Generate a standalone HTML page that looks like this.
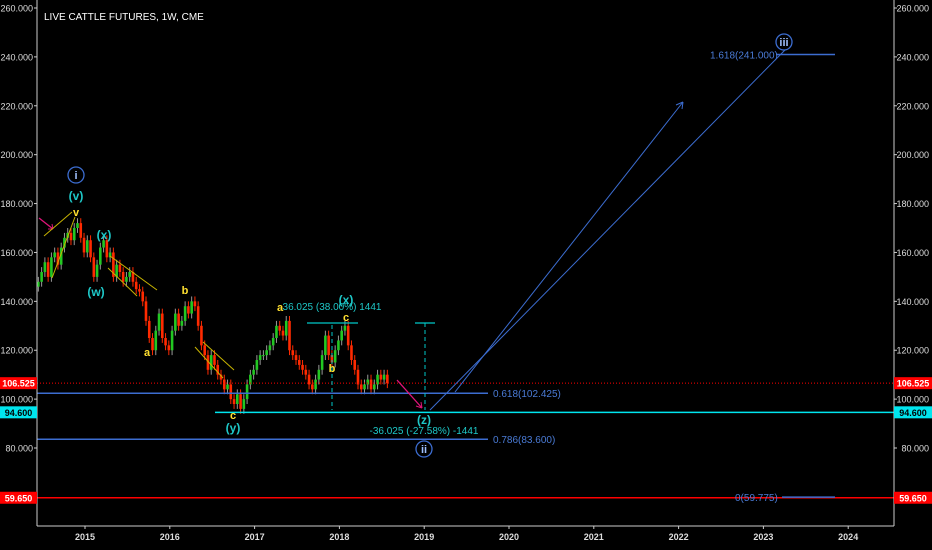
<!DOCTYPE html>
<html><head><meta charset="utf-8"><style>
html,body{margin:0;padding:0;background:#000;width:932px;height:550px;overflow:hidden}
svg{display:block;font-family:"Liberation Sans",sans-serif}
</style></head><body>
<svg id="chart" width="932" height="550" viewBox="0 0 932 550" xmlns="http://www.w3.org/2000/svg">
<g id="grid"></g>
<g id="candles"></g>
<g id="ann"></g>
<g id="axes"></g>
</svg>
<script>
const yTicks=[260,240,220,200,180,160,140,120,100,80];
const xYears=[2015,2016,2017,2018,2019,2020,2021,2022,2023,2024];
const startYear=2014.45, step=1/26;
const closes=[148,152,156,150,158,160,155,162,166,168,165,170,172,166,
160,165,158,150,155,162,165,158,160,150,155,152,148,
150,152,148,145,144,140,132,125,120,128,135,125,122,
120,128,135,130,132,138,135,140,138,130,122,118,112,
118,114,110,108,104,106,100,98,102,96,100,106,
110,112,116,118,118,120,122,125,130,128,126,132,120,
118,116,114,112,110,106,104,108,112,118,126,118,115,
120,124,128,130,122,116,112,106,104,106,108,104,106,
110,108,110,106.5];
const levels=[106.525,94.6,59.65];
const NS="http://www.w3.org/2000/svg";
function Y(p){return 8+(260-p)*2.4445;}
function X(t){return 85+(t-2015)*84.8;}
function el(tag,attrs,parent,txt){const e=document.createElementNS(NS,tag);for(const k in attrs)e.setAttribute(k,attrs[k]);if(txt!==undefined)e.textContent=txt;document.getElementById(parent).appendChild(e);return e;}
const ax='axes';
let b=el('line',{x1:37,y1:0,x2:37,y2:526,stroke:'#ccc','stroke-width':1},ax);

b=el('line',{x1:894,y1:0,x2:894,y2:526,stroke:'#ccc','stroke-width':1},ax);

b=el('line',{x1:37,y1:526,x2:894,y2:526,stroke:'#ccc','stroke-width':1},ax);

yTicks.forEach(v=>{
 const y=Y(v);
 let t=el('text',{x:929,y:y+3.5,fill:'#ddd','font-size':9,'text-anchor':'end'},ax,v.toFixed(3));
 
 el('line',{x1:894,y1:y,x2:897,y2:y,stroke:'#ccc'},ax);
 t=el('text',{x:33,y:y+3.5,fill:'#ddd','font-size':9,'text-anchor':'end'},ax,v.toFixed(3));
 
 el('line',{x1:34,y1:y,x2:37,y2:y,stroke:'#ccc'},ax);
});
xYears.forEach(yr=>{
 const x=X(yr);
 el('line',{x1:x,y1:526,x2:x,y2:529,stroke:'#ccc'},ax);
 const t=el('text',{x:x,y:540,fill:'#ddd','font-size':9,'font-weight':'bold','text-anchor':'middle'},ax,String(yr));
 
});
const lvlColors=['#ff0000','#00e5ee','#ff0000'];
const lvlText=['#fff','#000','#fff'];
levels.forEach((v,i)=>{
 const y=Y(v);
 [[894,38],[0,37]].forEach(([x,w])=>{
  const r=el('rect',{x:x,y:y-6,width:w,height:12,fill:lvlColors[i]},ax);
  
  el('text',{x:x+w/2,y:y+3.5,fill:lvlText[i],'font-size':9,'font-weight':'bold','text-anchor':'middle'},ax,v.toFixed(3));
 });
});
let tt=el('text',{x:44,y:20,fill:'#fff','font-size':10},ax,'LIVE CATTLE FUTURES, 1W, CME');

let prev=closes[0]-2;
closes.forEach((c,i)=>{
 const t=startYear+i*step,x=X(t);
 const o=prev,hi=Math.max(o,c)+2,lo=Math.min(o,c)-2;
 const up=c>=o,col=up?'#22c822':'#ff2a00';
 el('line',{x1:x,y1:Y(hi),x2:x,y2:Y(lo),stroke:up?'#999':'#ff2a00','stroke-width':1},'candles');
 const r=el('rect',{x:x-1.3,y:Y(Math.max(o,c)),width:2.6,height:Math.max(1,Math.abs(Y(o)-Y(c))),fill:col},'candles');
 
 prev=c;
});
const A='ann';
function L(n,a,p){const e=el('line',a,A);return e;}
function T(n,x,y,s,col,fs){const e=el('text',{x:x,y:y,fill:col,'font-size':fs||11,'font-weight':'bold','text-anchor':'middle'},A,s);return e;}
L('last-price-line',{x1:37,y1:Y(106.525),x2:894,y2:Y(106.525),stroke:'#ff0000','stroke-dasharray':'1,2'});
L('fib-0618-line',{x1:37,y1:Y(102.425),x2:488,y2:Y(102.425),stroke:'#3c6dd1','stroke-width':1.5});
L('fib-0786-line',{x1:37,y1:Y(83.6),x2:488,y2:Y(83.6),stroke:'#3c6dd1','stroke-width':1.5});
L('target-line',{x1:215,y1:Y(94.6),x2:894,y2:Y(94.6),stroke:'#00e5ee','stroke-width':1.5});
L('zero-line',{x1:37,y1:Y(59.65),x2:894,y2:Y(59.65),stroke:'#ff0000','stroke-width':1.5});
L('fib-0-line',{x1:782,y1:Y(59.9),x2:835,y2:Y(59.9),stroke:'#3c6dd1','stroke-width':1.5});
L('fib-1618-line',{x1:776,y1:Y(241),x2:835,y2:Y(241),stroke:'#3c6dd1','stroke-width':1.5});
function lab(n,x,y,s){const e=el('text',{x:x,y:y,fill:'#4a7bd6','font-size':10},A,s);}
lab('fib-0618-label',493,Y(102.425)+4,'0.618(102.425)');
lab('fib-0786-label',493,Y(83.6)+4,'0.786(83.600)');
lab('fib-0-label',735,Y(59.9)+4,'0(59.775)');
lab('fib-1618-label',710,Y(241)+4,'1.618(241.000)');
L('projection-line-1',{x1:455,y1:392,x2:683,y2:102,stroke:'#3c6dd1'});
L('projection-line-2',{x1:430,y1:410,x2:785,y2:50,stroke:'#3c6dd1'});
el('path',{d:'M683,102 l-7,3 M683,102 l-1,7',stroke:'#3c6dd1',fill:'none'},A);
L('down-arrow',{x1:397,y1:380,x2:422,y2:408,stroke:'#e0147a','stroke-width':1.3});
el('path',{d:'M422,408 l-6,-2 M422,408 l-1,-6',stroke:'#e0147a',fill:'none'},A);
L('pink-arrow',{x1:39,y1:218,x2:53,y2:229,stroke:'#e0147a','stroke-width':1.3});
el('path',{d:'M53,229 l-5,0 M53,229 l-1,-5',stroke:'#e0147a',fill:'none'},A);
[[44,236,72,212],[52,278,75,217],[110,256,157,290],[108,268,137,296],[203,342,234,370],[195,347,223,378]].forEach(c=>L('channel-line',{x1:c[0],y1:c[1],x2:c[2],y2:c[3],stroke:'#c8b400'}));
L('measure-top',{x1:307,y1:323,x2:358,y2:323,stroke:'#00c8c8','stroke-width':1.3});
L('measure-vertical',{x1:332,y1:325,x2:332,y2:410,stroke:'#00c8c8','stroke-dasharray':'4,3'});
L('measure2-top',{x1:415,y1:323,x2:435,y2:323,stroke:'#00c8c8','stroke-width':1.3});
L('measure2-vertical',{x1:425,y1:323,x2:425,y2:410,stroke:'#00c8c8','stroke-dasharray':'4,3'});
const C='#1ec8c8',Yl='#ffe030';
function circ(n,x,y,s){const c=el('circle',{cx:x,cy:y,r:8,fill:'none',stroke:'#3c6dd1','stroke-width':1.3},A);T(n+'-text',x,y+4,s,'#9fc0ff',11);}
circ('wave-i',76,175,'i');circ('wave-ii',424,449,'ii');circ('wave-iii',784,42,'iii');
T('wave-v-paren',76,200,'(v)',C,12);T('wave-v',76,216,'v',Yl,11);
T('wave-w',96,296,'(w)',C,12);T('wave-x',104,239,'(x)',C,12);
T('wave-a1',147,356,'a',Yl,11);T('wave-b1',185,294,'b',Yl,11);
T('wave-c1',233,419,'c',Yl,11);T('wave-y',233,432,'(y)',C,12);
T('wave-a2',280,311,'a',Yl,11);T('wave-b2',332,372,'b',Yl,11);
T('wave-c2',346,321,'c',Yl,11);T('wave-x2',346,304,'(x)',C,12);
T('wave-z',424,424,'(z)',C,12);
T('measure-up-label',332,310,'36.025 (38.00%) 1441',C,10).setAttribute('font-weight','normal');
T('measure-down-label',424,434,'-36.025 (-27.58%) -1441',C,10).setAttribute('font-weight','normal');
</script>
</body></html>
